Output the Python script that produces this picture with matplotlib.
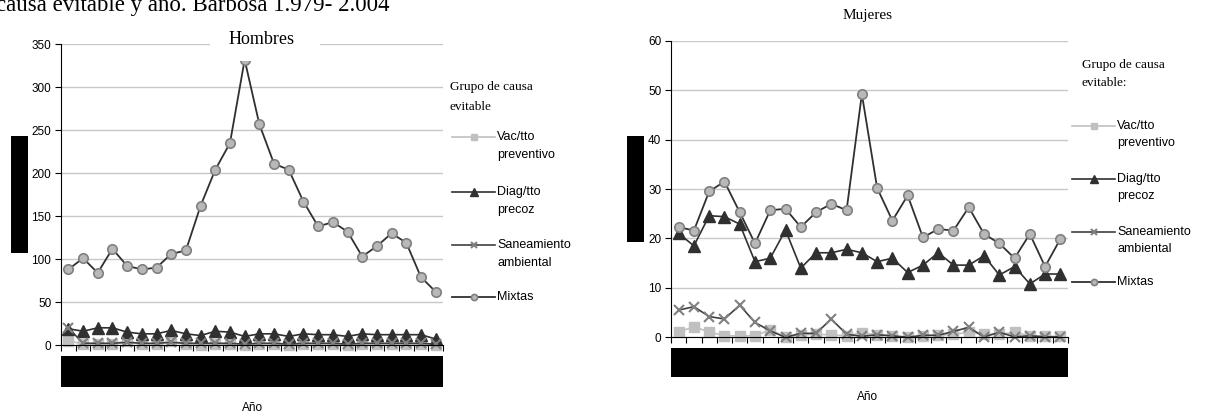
import matplotlib
matplotlib.use("Agg")
import matplotlib.pyplot as plt
from matplotlib.lines import Line2D
from matplotlib.patches import Rectangle

W, H = 1205, 416

# Data: 1979-2004
years = list(range(1979, 2005))

hombres_vac = [5, 1, 1, 1, 5, 1, 1, 5, 1, 0, 1, 1, 0, 1, 1, 0, 1, 1, 1, 0, 1, 1, 1, 1, 1, 0]
hombres_diag = [19, 16, 20, 20, 15, 13, 13, 17, 13, 11, 16, 15, 10, 13, 13, 10, 13, 12, 12, 10, 13, 12, 12, 12, 12, 7]
hombres_san = [20, 2, 2, 2, 3, 2, 2, 3, 2, 2, 2, 2, 1, 2, 2, 1, 2, 2, 2, 1, 2, 2, 2, 2, 2, 1]
hombres_mix = [88, 101, 84, 112, 92, 88, 90, 106, 110, 162, 204, 235, 332, 257, 211, 204,
               167, 138, 143, 132, 103, 115, 130, 119, 79, 62]

mujeres_vac = [1.1, 2.1, 1.1, 0.3, 0.3, 0.3, 1.5, 0.0, 0.5, 0.6, 0.5, 0.3, 0.9, 0.5, 0.3, 0.0,
               0.3, 0.4, 0.6, 1.0, 0.6, 0.6, 1.0, 0.3, 0.2, 0.2]
mujeres_diag = [21.0, 18.5, 24.6, 24.4, 22.9, 15.3, 16.0, 21.7, 14.0, 17.1, 17.1, 17.8, 17.1,
                15.3, 16.0, 13.1, 14.6, 17.1, 14.6, 14.6, 16.5, 12.6, 14.3, 10.8, 12.8, 12.8]
mujeres_san = [5.5, 6.2, 4.2, 3.7, 6.5, 3.0, 1.3, 0.0, 0.8, 0.8, 3.7, 0.6, 0.2, 0.5, 0.3, 0.0,
               0.4, 0.4, 1.2, 2.0, 0.1, 1.0, 0.1, 0.3, 0.1, 0.1]
mujeres_mix = [22.3, 21.6, 29.5, 31.5, 25.3, 19.0, 25.7, 26.0, 22.3, 25.3, 27.0, 25.7, 49.2,
               30.2, 23.6, 28.7, 20.2, 21.9, 21.6, 26.3, 20.9, 19.0, 16.0, 20.9, 14.3, 19.9]

labels = ["Vac/tto\npreventivo", "Diag/tto\nprecoz", "Saneamiento\nambiental", "Mixtas"]

SANS = "Liberation Sans"
SERIF = "Liberation Serif"

styles = [
    dict(color="#c0c0c0", marker="s", markersize=6.5, markerfacecolor="#c0c0c0",
         markeredgecolor="#c0c0c0", markeredgewidth=1, linewidth=1.2),
    dict(color="#303030", marker="^", markersize=8, markerfacecolor="#303030",
         markeredgecolor="#303030", markeredgewidth=1, linewidth=1.2),
    dict(color="#404040", marker="x", markersize=7.5, markerfacecolor="none",
         markeredgecolor="#808080", markeredgewidth=1.5, linewidth=1.2),
    dict(color="#303030", marker="o", markersize=6.8, markerfacecolor="#b8b8b8",
         markeredgecolor="#808080", markeredgewidth=1.2, linewidth=1.3),
]


def px(x, y):
    return x / W, 1 - y / H


def axes_rect(x0, x1, y0, y1):
    return [x0 / W, 1 - y1 / H, (x1 - x0) / W, (y1 - y0) / H]


fig = plt.figure(figsize=(W / 100, H / 100), dpi=100)


def draw_panel(rect, series, ymax, ystep):
    ax = fig.add_axes(rect)
    x = list(range(len(years)))
    for vals, st in zip(series, styles):
        ax.plot(x, vals, clip_on=False, **st)
    ax.set_xlim(-0.5, len(years) - 0.5)
    ax.set_ylim(0, ymax)
    ax.set_yticks(range(0, ymax + 1, ystep))
    ax.set_xticks([i + 0.5 for i in range(-1, len(years))])
    ax.set_xticklabels([])
    ax.grid(axis="y", color="#c8c8c8", linewidth=1)
    ax.set_axisbelow(True)
    for s in ["top", "right"]:
        ax.spines[s].set_visible(False)
    ax.tick_params(axis="y", direction="out", length=4, labelsize=8.5, pad=3)
    ax.tick_params(axis="x", direction="out", length=4)
    for t in ax.get_yticklabels():
        t.set_fontfamily(SANS)
    return ax


def draw_legend(title_lines, title_x, title_y, hx0, hx1, entry_y, line_gap):
    for i, t in enumerate(title_lines):
        fig.text(*px(title_x, title_y[i]), t, family=SERIF, fontsize=9.5,
                 va="center", ha="left")
    for lab, st, y in zip(labels, styles, entry_y):
        x0, y0 = px(hx0, y)
        x1, _ = px(hx1, y)
        fig.add_artist(Line2D([x0, x1], [y0, y0], transform=fig.transFigure,
                              color=st["color"], linewidth=st["linewidth"]))
        fig.add_artist(Line2D([(x0 + x1) / 2], [y0], transform=fig.transFigure,
                              linestyle="none", marker=st["marker"],
                              markersize=st["markersize"] * 0.65,
                              markerfacecolor=st["markerfacecolor"],
                              markeredgecolor=st["markeredgecolor"],
                              markeredgewidth=st["markeredgewidth"]))
        for j, line in enumerate(lab.split("\n")):
            fig.text(*px(hx1 + 2, y + j * line_gap), line, family=SANS, fontsize=9,
                     va="center", ha="left")


# Hombres
ax1 = draw_panel(axes_rect(61, 443, 44.3, 345),
                 [hombres_vac, hombres_diag, hombres_san, hombres_mix], 350, 50)
fig.add_artist(Rectangle(px(210, 61), 110 / W, 33 / H, transform=fig.transFigure,
                         facecolor="white", edgecolor="none"))
fig.text(*px(262, 40), "Hombres", family=SERIF, fontsize=13, ha="center", va="center")
fig.text(*px(253, 408), "Año", family=SANS, fontsize=8.5, ha="center", va="center")
draw_legend(["Grupo de causa", "evitable"], 450, [87, 106.5], 452, 495,
            [136.7, 191.7, 245, 296.7], 18)

# Mujeres
ax2 = draw_panel(axes_rect(671, 1068, 40.7, 337.3),
                 [mujeres_vac, mujeres_diag, mujeres_san, mujeres_mix], 60, 10)
fig.text(*px(868, 16), "Mujeres", family=SERIF, fontsize=11, ha="center", va="center")
fig.text(*px(868, 397), "Año", family=SANS, fontsize=8.5, ha="center", va="center")
draw_legend(["Grupo de causa", "evitable:"], 1082, [65, 83.3], 1072, 1115,
            [125.7, 179, 232.3, 282.3], 17)

# caption line cut at the top of the image
fig.text(-0.003, 1 - 10.5 / H, "causa evitable y año. Barbosa 1.979- 2.004", family=SERIF,
         fontsize=16.5, ha="left", va="baseline")

# black boxes covering the axis titles and year labels in the source image
for (x0, y0, x1, y1) in [(11, 136, 28, 253), (61, 356, 443, 387),
                         (627, 136, 644, 242), (671, 348, 1068, 377)]:
    fig.add_artist(Rectangle(px(x0, y1), (x1 - x0) / W, (y1 - y0) / H,
                             transform=fig.transFigure, facecolor="black", edgecolor="none"))

fig.savefig("out.png", dpi=100)
